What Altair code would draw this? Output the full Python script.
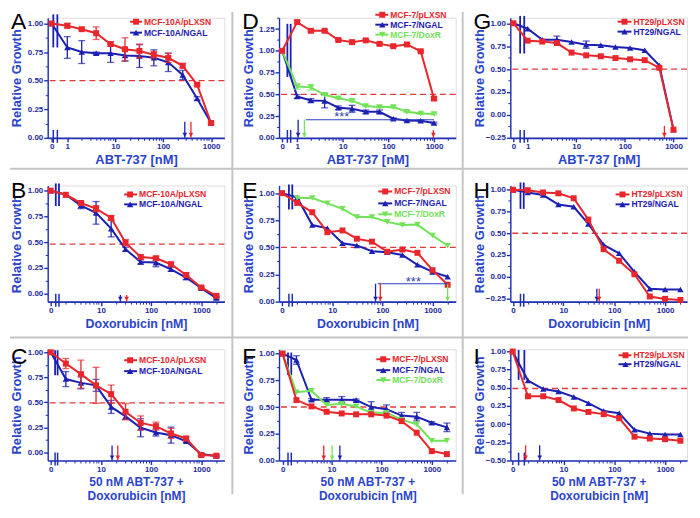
import altair as alt
import pandas as pd

RED = "#e8262c"
BLUE = "#1c20b2"
GREEN = "#72e258"
DASH = "#e03a3a"
AXIS_C = "#1f2fb4"
LABEL_C = "#1d2a9a"
TITLE_C = "#2a44cc"
SEP_C = "#c4c4c4"
FONT = "Liberation Sans"

# concentrations (0 = untreated control)
ABT_NM = [0, 1, 2, 4, 8, 16, 32, 64, 128, 256, 512, 1000]
DOX_NM = [0, 2, 4, 8, 16, 31, 62, 125, 250, 500, 1000, 2000]

ABT_TICKS = [1, 10, 100, 1000]
DOX_TICKS = [10, 100, 1000]
MINOR_X = [2, 3, 4, 5, 6, 7, 8, 9, 20, 30, 40, 50, 60, 70, 80, 90,
           200, 300, 400, 500, 600, 700, 800, 900, 2000]
Y_TICKS = [-0.5, -0.25, 0.0, 0.25, 0.5, 0.75, 1.0, 1.25]
Y_MINOR = [-0.375, -0.125, 0.125, 0.375, 0.625, 0.875, 1.125, 1.375]

# ---- Panel A: MCF-10A, ABT-737
A_plxsn = [1.00, 0.98, 0.95, 0.915, 0.82, 0.775, 0.76, 0.727, 0.70, 0.63, 0.465, 0.13]
A_plxsn_err = [0, 0.02, 0.01, 0.055, 0.02, 0.10, 0.06, 0.03, 0.04, 0.02, 0.01, 0.01]
A_ngal = [1.00, 0.79, 0.75, 0.74, 0.74, 0.72, 0.715, 0.70, 0.66, 0.55, 0.345, 0.13]
A_ngal_err = [0, 0.095, 0.10, 0.01, 0.08, 0.05, 0.10, 0.07, 0.08, 0.04, 0.015, 0]

# ---- Panel B: MCF-10A, Doxorubicin
B_plxsn = [1.00, 0.96, 0.88, 0.825, 0.735, 0.494, 0.355, 0.342, 0.284, 0.18, 0.058, -0.023]
B_plxsn_err = [0, 0, 0.02, 0.03, 0.02, 0.03, 0.02, 0.02, 0.02, 0.02, 0.01, 0.01]
B_ngal = [1.00, 0.96, 0.855, 0.784, 0.63, 0.43, 0.306, 0.30, 0.235, 0.155, 0.052, -0.045]
B_ngal_err = [0, 0, 0.03, 0.11, 0.08, 0.02, 0.02, 0.04, 0.02, 0.02, 0.01, 0.01]

# ---- Panel C: MCF-10A, 50 nM ABT-737 + Doxorubicin
C_plxsn = [1.00, 0.888, 0.782, 0.67, 0.583, 0.407, 0.295, 0.263, 0.19, 0.14, -0.026, -0.032]
C_plxsn_err = [0, 0.05, 0.14, 0.18, 0.09, 0.08, 0.07, 0.04, 0.05, 0.02, 0.01, 0.01]
C_ngal = [1.00, 0.733, 0.695, 0.67, 0.455, 0.36, 0.247, 0.199, 0.173, 0.112, -0.016, -0.035]
C_ngal_err = [0, 0.075, 0.06, 0.06, 0.065, 0.03, 0.09, 0.035, 0.08, 0.01, 0.01, 0.01]

# ---- Panel D: MCF-7, ABT-737
D_plxsn = [1.00, 1.33, 1.23, 1.23, 1.124, 1.10, 1.12, 1.08, 1.053, 1.073, 0.995, 0.452]
D_plxsn_err = [0, 0.02, 0.01, 0.01, 0.01, 0.01, 0.01, 0.01, 0.01, 0.01, 0.01, 0.02]
D_ngal = [1.00, 0.476, 0.43, 0.425, 0.346, 0.334, 0.30, 0.30, 0.22, 0.20, 0.197, 0.17]
D_ngal_err = [0, 0.02, 0.02, 0.08, 0.02, 0.04, 0.02, 0.02, 0.01, 0.01, 0.01, 0.01]
D_doxr = [1.00, 0.59, 0.58, 0.495, 0.456, 0.425, 0.366, 0.354, 0.354, 0.30, 0.28, 0.275]
D_doxr_err = [0, 0.03, 0.03, 0.01, 0.01, 0.01, 0.01, 0.01, 0.01, 0.01, 0.01, 0.01]

# ---- Panel E: MCF-7, Doxorubicin
E_plxsn = [1.00, 0.91, 0.824, 0.64, 0.656, 0.58, 0.553, 0.46, 0.48, 0.45, 0.29, 0.156]
E_plxsn_err = [0] * 12
E_ngal = [1.00, 0.96, 0.706, 0.676, 0.538, 0.518, 0.465, 0.456, 0.43, 0.34, 0.274, 0.23]
E_ngal_err = [0] * 12
E_doxr = [None, 0.955, 0.955, 0.906, 0.855, 0.78, 0.78, 0.735, 0.706, 0.71, 0.61, 0.515]
E_doxr_err = [0] * 12

# ---- Panel F: MCF-7, 50 nM ABT-737 + Doxorubicin
F_plxsn = [1.00, 0.565, 0.506, 0.456, 0.44, 0.432, 0.432, 0.42, 0.368, 0.26, 0.088, 0.06]
F_plxsn_err = [0] * 12
F_ngal = [1.00, 0.94, 0.568, 0.568, 0.568, 0.565, 0.50, 0.48, 0.42, 0.41, 0.353, 0.31]
F_ngal_err = [0, 0.04, 0.01, 0.02, 0.03, 0.01, 0.05, 0.04, 0.03, 0.04, 0.01, 0.04]
F_doxr = [1.00, 0.638, 0.653, 0.52, 0.53, 0.506, 0.447, 0.447, 0.382, 0.338, 0.185, 0.185]
F_doxr_err = [0] * 12

# ---- Panel G: HT29, ABT-737
G_plxsn = [1.00, 0.81, 0.80, 0.784, 0.68, 0.65, 0.64, 0.62, 0.607, 0.597, 0.514, -0.16]
G_plxsn_err = [0] * 12
G_ngal = [1.00, 0.94, 0.82, 0.82, 0.795, 0.766, 0.76, 0.74, 0.73, 0.705, 0.54, -0.16]
G_ngal_err = [0, 0, 0, 0.04, 0, 0.04, 0, 0, 0, 0, 0, 0]

# ---- Panel H: HT29, Doxorubicin
H_plxsn = [1.00, 0.996, 0.97, 0.96, 0.903, 0.657, 0.315, 0.182, 0.026, -0.23, -0.258, -0.27]
H_plxsn_err = [0] * 12
H_ngal = [1.00, 0.97, 0.94, 0.83, 0.805, 0.607, 0.365, 0.268, 0.054, -0.14, -0.149, -0.149]
H_ngal_err = [0] * 12

# ---- Panel I: HT29, 50 nM ABT-737 + Doxorubicin
I_plxsn = [1.00, 0.384, 0.384, 0.332, 0.216, 0.168, 0.138, 0.082, -0.172, -0.198, -0.207, -0.228]
I_plxsn_err = [0] * 12
I_ngal = [1.00, 0.60, 0.483, 0.45, 0.375, 0.289, 0.18, 0.15, -0.078, -0.13, -0.142, -0.142]
I_ngal_err = [0] * 12

T_ABT = "ABT-737 [nM]"
T_DOX = "Doxorubicin [nM]"
T_COMBO = ["50 nM ABT-737 +", "Doxorubicin [nM]"]

PANELS = {
    "A": dict(conc=ABT_NM, ticks=ABT_TICKS, xdom=[0.39, 1900], zero=0.47, ydom=[0.0, 1.05], ref=0.5,
              brk=[0.51, 0.62, 1.08, 0.79], xtitle=T_ABT, tsize=13,
              series=[("MCF-10A/NGAL", A_ngal, A_ngal_err, BLUE, "triangle-up"),
                      ("MCF-10A/pLXSN", A_plxsn, A_plxsn_err, RED, "square")],
              legend_order=[1, 0], leg=(83, 95, 89, 97, [4, 15]),
              arrows=[(283, BLUE, 0.14), (380, RED, 0.14)], bracket=None),
    "B": dict(conc=DOX_NM, ticks=DOX_TICKS, xdom=[0.87, 2900], zero=1.0, ydom=[-0.08, 1.05], ref=0.48,
              brk=[1.26, 1.46, 1.07, 0.85], xtitle=T_DOX, tsize=12.5,
              series=[("MCF-10A/NGAL", B_ngal, B_ngal_err, BLUE, "triangle-up"),
                      ("MCF-10A/pLXSN", B_plxsn, B_plxsn_err, RED, "square")],
              legend_order=[1, 0], leg=(77, 90, 83, 92, [9, 19]),
              arrows=[(24.4, BLUE, -0.015), (32.6, RED, -0.015)], bracket=None),
    "C": dict(conc=DOX_NM, ticks=DOX_TICKS, xdom=[0.87, 2900], zero=1.0, ydom=[-0.08, 1.03], ref=0.495,
              brk=[1.22, 1.37, 1.02, 0.77], xtitle=T_COMBO, tsize=12,
              series=[("MCF-10A/NGAL", C_ngal, C_ngal_err, BLUE, "triangle-up"),
                      ("MCF-10A/pLXSN", C_plxsn, C_plxsn_err, RED, "square")],
              legend_order=[1, 0], leg=(77, 90, 83, 92, [11, 22]),
              arrows=[(16.7, BLUE, 0.07), (21.7, RED, 0.07)], bracket=None),
    "D": dict(conc=ABT_NM, ticks=ABT_TICKS, xdom=[0.40, 3000], zero=0.47, ydom=[0.0, 1.38], ref=0.5,
              brk=[0.61, 0.72, 1.31, 0.70], xtitle=T_ABT, tsize=13,
              series=[("MCF-7/NGAL", D_ngal, D_ngal_err, BLUE, "triangle-up"),
                      ("MCF-7/DoxR", D_doxr, D_doxr_err, GREEN, "triangle-down"),
                      ("MCF-7/pLXSN", D_plxsn, D_plxsn_err, RED, "square")],
              legend_order=[2, 0, 1], leg=(97, 110, 104, 112, [-3, 7, 17]),
              arrows=[(1.05, BLUE, 0.208), (1.44, GREEN, 0.208), (970, RED, 0.09)],
              bracket=(1.55, 1000, 0.208, 9.5, 0.245)),
    "E": dict(conc=DOX_NM, ticks=DOX_TICKS, xdom=[0.87, 2900], zero=1.0, ydom=[0.0, 1.07], ref=0.5,
              brk=[1.37, 1.6, 1.08, 0.85], xtitle=T_DOX, tsize=12.5,
              series=[("MCF-7/NGAL", E_ngal, E_ngal_err, BLUE, "triangle-up"),
                      ("MCF-7/DoxR", E_doxr, E_doxr_err, GREEN, "triangle-down"),
                      ("MCF-7/pLXSN", E_plxsn, E_plxsn_err, RED, "square")],
              legend_order=[2, 0, 1], leg=(100, 114, 107, 116, [6, 18, 29]),
              arrows=[(73, BLUE, 0.165), (91, RED, 0.165), (2000, GREEN, 0.165)],
              bracket=(81, 2000, 0.165, 415, 0.185)),
    "F": dict(conc=DOX_NM, ticks=DOX_TICKS, xdom=[0.9, 3000], zero=1.06, ydom=[0.0, 1.04], ref=0.5,
              brk=[1.36, 1.58, 1.01, 0.80], xtitle=T_COMBO, tsize=12,
              series=[("MCF-7/NGAL", F_ngal, F_ngal_err, BLUE, "triangle-up"),
                      ("MCF-7/DoxR", F_doxr, F_doxr_err, GREEN, "triangle-down"),
                      ("MCF-7/pLXSN", F_plxsn, F_plxsn_err, RED, "square")],
              legend_order=[2, 0, 1], leg=(98, 112, 105, 114, [10, 21, 31]),
              arrows=[(7, RED, 0.14), (10.3, GREEN, 0.14), (14.7, BLUE, 0.14)], bracket=None),
    "G": dict(conc=ABT_NM, ticks=ABT_TICKS, xdom=[0.44, 1900], zero=0.51, ydom=[-0.25, 1.06], ref=0.5,
              brk=[0.70, 0.85, 1.08, 0.67], xtitle=T_ABT, tsize=13,
              series=[("HT29/NGAL", G_ngal, G_ngal_err, BLUE, "triangle-up"),
                      ("HT29/pLXSN", G_plxsn, G_plxsn_err, RED, "square")],
              legend_order=[1, 0], leg=(108, 122, 115, 124, [4, 14]),
              arrows=[(650, RED, -0.12)], bracket=None),
    "H": dict(conc=DOX_NM, ticks=DOX_TICKS, xdom=[0.91, 2700], zero=1.03, ydom=[-0.29, 1.05], ref=0.5,
              brk=[1.44, 1.67, 1.085, 0.78], xtitle=T_DOX, tsize=12.5,
              series=[("HT29/NGAL", H_ngal, H_ngal_err, BLUE, "triangle-up"),
                      ("HT29/pLXSN", H_plxsn, H_plxsn_err, RED, "square")],
              legend_order=[1, 0], leg=(106, 120, 113, 122, [9, 19]),
              arrows=[(45.6, BLUE, -0.14), (50.7, RED, -0.14)], bracket=None),
    "I": dict(conc=DOX_NM, ticks=DOX_TICKS, xdom=[0.9, 2700], zero=1.0, ydom=[-0.5, 1.03], ref=0.49,
              brk=[1.31, 1.70, 1.02, 0.61], xtitle=T_COMBO, tsize=12,
              series=[("HT29/NGAL", I_ngal, I_ngal_err, BLUE, "triangle-up"),
                      ("HT29/pLXSN", I_plxsn, I_plxsn_err, RED, "square")],
              legend_order=[1, 0], leg=(109, 122, 116, 124, [6, 15]),
              arrows=[(1.8, RED, -0.29), (3.4, BLUE, -0.29)], bracket=None),
}

W = 178
ROW_SPACING = 48
COL_SPACING = 55
ROW_H = {"A": 121, "D": 121, "G": 121, "B": 117, "E": 117, "H": 117, "C": 112, "F": 112, "I": 112}
LETTER_Y = {"A": 11, "D": 11, "G": 11, "B": 13, "E": 13, "H": 13, "C": 15, "F": 15, "I": 15}
# separator lines of the figure grid, relative to each panel's plot area
SEP_V = {"A": (186, -6, 121 + ROW_SPACING), "D": (185, -6, 121 + ROW_SPACING),
         "B": (186, 0, 117 + ROW_SPACING), "E": (185, 0, 117 + ROW_SPACING),
         "C": (186, 0, 146), "F": (185, 0, 146)}
SEP_H = {"A": (-38, 186, 152), "D": (-47, 185, 152), "G": (-48, 179, 152),
         "B": (-38, 186, 153), "E": (-47, 185, 153), "H": (-48, 179, 153)}


def sizes(shape):
    return 36 if shape == "square" else 42


def build_panel(letter):
    p = PANELS[letter]
    H = ROW_H[letter]
    xs = alt.Scale(type="log", domain=p["xdom"], nice=False)
    ys = alt.Scale(domain=p["ydom"], nice=False, zero=False)
    ymin, ymax = p["ydom"]
    xpos = [p["zero"] if c == 0 else c for c in p["conc"]]
    layers = []
    one = pd.DataFrame({"k": [0]})

    # figure grid separators
    if letter in SEP_V:
        sx, sy0, sy1 = SEP_V[letter]
        layers.append(alt.Chart(one).mark_rule(color=SEP_C, strokeWidth=2).encode(
            x=alt.value(sx), y=alt.value(sy0), y2=alt.value(sy1)))
    if letter in SEP_H:
        sx0, sx1, sy = SEP_H[letter]
        layers.append(alt.Chart(one).mark_rule(color=SEP_C, strokeWidth=2).encode(
            x=alt.value(sx0), x2=alt.value(sx1), y=alt.value(sy)))

    # 50 % reference line
    ref_df = pd.DataFrame({"y": [p["ref"]]})
    layers.append(alt.Chart(ref_df).mark_rule(color=DASH, strokeDash=[6, 4], strokeWidth=1.4).encode(
        y=alt.Y("y:Q", scale=ys, axis=None)))

    # break marks
    bx1, bx2, bt, bb = p["brk"]
    brk_df = pd.DataFrame({"x": [bx1, bx2], "top": [bt, bt], "bot": [bb, bb]})
    layers.append(alt.Chart(brk_df).mark_rule(color=BLUE, strokeWidth=1.8).encode(
        x=alt.X("x:Q", scale=xs, axis=None), y=alt.Y("top:Q", scale=ys, axis=None), y2="bot:Q"))
    layers.append(alt.Chart(brk_df).mark_rule(color=AXIS_C, strokeWidth=1.5).encode(
        x=alt.X("x:Q", scale=xs, axis=None), y=alt.value(H - 8), y2=alt.value(H + 5)))

    # series
    for name, vals, errs, color, shape in p["series"]:
        df = pd.DataFrame({"x": xpos, "y": vals, "e": errs}).dropna(subset=["y"])
        eb = df[df.e > 0].copy()
        eb["lo"] = eb.y - eb.e
        eb["hi"] = eb.y + eb.e
        if len(eb):
            layers.append(alt.Chart(eb).mark_errorbar(color=color, thickness=1.3,
                                                       ticks={"size": 7, "thickness": 1.3}).encode(
                x=alt.X("x:Q", scale=xs, axis=None),
                y=alt.Y("lo:Q", scale=ys, axis=None), y2="hi:Q"))
        layers.append(alt.Chart(df).mark_line(color=color, strokeWidth=2).encode(
            x=alt.X("x:Q", scale=xs, axis=None), y=alt.Y("y:Q", scale=ys, axis=None)))
        layers.append(alt.Chart(df).mark_point(shape=shape, filled=True, opacity=1, color=color,
                                               size=sizes(shape)).encode(
            x=alt.X("x:Q", scale=xs, axis=None), y=alt.Y("y:Q", scale=ys, axis=None)))

    # IC50 arrows
    for ax, acol, atop in p["arrows"]:
        adf = pd.DataFrame({"x": [ax], "top": [atop], "bot": [ymin]})
        layers.append(alt.Chart(adf).mark_rule(color=acol, strokeWidth=1.3).encode(
            x=alt.X("x:Q", scale=xs, axis=None), y=alt.Y("top:Q", scale=ys, axis=None), y2="bot:Q"))
        layers.append(alt.Chart(adf).mark_point(shape="triangle-down", filled=True, opacity=1,
                                                color=acol, size=22, yOffset=-3).encode(
            x=alt.X("x:Q", scale=xs, axis=None), y=alt.Y("bot:Q", scale=ys, axis=None)))

    # significance bracket
    if p["bracket"]:
        x1, x2, yb, xt, yt = p["bracket"]
        bdf = pd.DataFrame({"x": [x1], "x2": [x2], "y": [yb], "xt": [xt], "yt": [yt], "t": ["***"]})
        layers.append(alt.Chart(bdf).mark_rule(color="#2a3cc0", strokeWidth=1).encode(
            x=alt.X("x:Q", scale=xs, axis=None), x2="x2:Q", y=alt.Y("y:Q", scale=ys, axis=None)))
        layers.append(alt.Chart(bdf).mark_text(color="#2a3cc0", fontSize=13, font=FONT,
                                               baseline="middle").encode(
            x=alt.X("xt:Q", scale=xs, axis=None), y=alt.Y("yt:Q", scale=ys, axis=None), text="t:N"))

    # legend (inside, top right)
    lx0, lx1, lxm, ltx, rows = p["leg"]
    for row_y, idx in zip(rows, p["legend_order"]):
        name, _, _, color, shape = p["series"][idx]
        ldf = pd.DataFrame({"name": [name]})
        layers.append(alt.Chart(ldf).mark_rule(color=color, strokeWidth=2).encode(
            x=alt.value(lx0), x2=alt.value(lx1), y=alt.value(row_y)))
        layers.append(alt.Chart(ldf).mark_point(shape=shape, filled=True, opacity=1, color=color,
                                                size=sizes(shape)).encode(
            x=alt.value(lxm), y=alt.value(row_y)))
        layers.append(alt.Chart(ldf).mark_text(color=color, font=FONT, fontWeight="bold", fontSize=8.6,
                                               align="left", baseline="middle").encode(
            x=alt.value(ltx), y=alt.value(row_y), text="name:N"))

    # panel letter
    layers.append(alt.Chart(pd.DataFrame({"l": [letter]})).mark_text(
        font=FONT, fontSize=23, color="black", align="left", baseline="alphabetic").encode(
        x=alt.value(-37), y=alt.value(LETTER_Y[letter]), text="l:N"))

    # axes (major + minor)
    xt = [p["zero"]] + [t for t in p["ticks"]]
    yt = [v for v in Y_TICKS if ymin - 1e-9 <= v <= ymax]
    xm = [v for v in MINOR_X if p["xdom"][0] <= v <= p["xdom"][1]]
    ym = [v for v in Y_MINOR if ymin <= v <= ymax]
    axdf = pd.DataFrame({"x": [p["xdom"][0]], "y": [ymin]})
    common = dict(tickColor=AXIS_C, domainColor=AXIS_C, grid=False, labelFont=FONT,
                  labelFontWeight="bold", labelFontSize=8, labelColor=LABEL_C,
                  titleFont=FONT, titleFontWeight="bold", titleColor=TITLE_C)
    x_axis = alt.Axis(values=xt, orient="bottom", tickSize=4, tickWidth=1.4, domainWidth=1.6,
                      labelPadding=1, labelFlush=False, labelOverlap=False,
                      labelExpr=f"datum.value < {p['zero'] * 1.01} ? '0' : format(datum.value, 'd')",
                      title=p["xtitle"], titleFontSize=p["tsize"], titlePadding=3, titleLineHeight=14,
                      **common)
    y_axis = alt.Axis(values=yt, orient="left", format=".2f", tickSize=4, tickWidth=1.4, domainWidth=1.4,
                      labelPadding=1, labelFlush=False, labelOverlap=False,
                      title="Relative Growth", titleFontSize=13, titleX=-24, **common)
    layers.append(alt.Chart(axdf).mark_point(opacity=0).encode(
        x=alt.X("x:Q", scale=xs, axis=x_axis), y=alt.Y("y:Q", scale=ys, axis=y_axis)))
    x_minor = alt.Axis(values=xm, orient="bottom", labels=False, domain=False, tickSize=2.5,
                       tickWidth=1, tickColor=AXIS_C, grid=False, title=None)
    y_minor = alt.Axis(values=ym, orient="left", labels=False, domain=False, tickSize=2.5,
                       tickWidth=1, tickColor=AXIS_C, grid=False, title=None)
    layers.append(alt.Chart(axdf).mark_point(opacity=0).encode(
        x=alt.X("x:Q", scale=xs, axis=x_minor), y=alt.Y("y:Q", scale=ys, axis=y_minor)))

    return alt.layer(*layers).resolve_axis(x="independent", y="independent").properties(width=W, height=H)


ORDER = ["A", "D", "G", "B", "E", "H", "C", "F", "I"]
chart = alt.concat(*[build_panel(k) for k in ORDER], columns=3,
                   spacing={"row": ROW_SPACING, "column": COL_SPACING}, bounds="flush").properties(
    padding={"left": 0, "top": 0, "right": 2, "bottom": 0}
).configure_view(stroke=None).configure(font=FONT, background="white")

chart.save("out.html", embed_options={"renderer": "svg", "actions": False})
